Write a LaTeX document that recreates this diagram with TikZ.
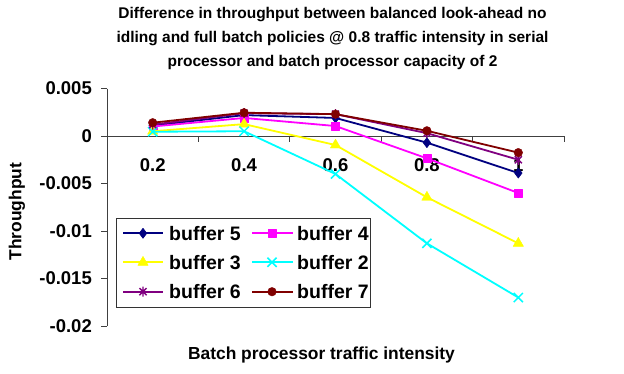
\documentclass[tikz,border=0pt]{standalone}
\usepackage{fontspec}
\setmainfont{Liberation Sans}
\usetikzlibrary{plotmarks}

% series colours
\definecolor{cFive}{HTML}{000080}
\definecolor{cFour}{HTML}{FF00FF}
\definecolor{cThree}{HTML}{FFFF00}
\definecolor{cTwo}{HTML}{00FFFF}
\definecolor{cSix}{HTML}{800080}
\definecolor{cSeven}{HTML}{800000}

% star marker: a cross with a vertical bar through it
\pgfdeclareplotmark{xstar}{%
  \pgfpathmoveto{\pgfqpoint{-.7071\pgfplotmarksize}{-.7071\pgfplotmarksize}}%
  \pgfpathlineto{\pgfqpoint{.7071\pgfplotmarksize}{.7071\pgfplotmarksize}}%
  \pgfpathmoveto{\pgfqpoint{-.7071\pgfplotmarksize}{.7071\pgfplotmarksize}}%
  \pgfpathlineto{\pgfqpoint{.7071\pgfplotmarksize}{-.7071\pgfplotmarksize}}%
  \pgfpathmoveto{\pgfqpoint{0pt}{-\pgfplotmarksize}}%
  \pgfpathlineto{\pgfqpoint{0pt}{\pgfplotmarksize}}%
  \pgfusepathqstroke}

\tikzset{
  series/.style={line width=1.8pt, line join=round},
  bufFive/.style={series, draw=cFive, mark=diamond*, mark size=5pt,
    mark options={fill=cFive, line width=0.6pt}},
  bufFour/.style={series, draw=cFour, mark=square*, mark size=4pt,
    mark options={fill=cFour, line width=0.4pt}},
  bufThree/.style={series, draw=cThree, mark=triangle*, mark size=6pt,
    mark options={fill=cThree, line width=0.4pt}},
  bufTwo/.style={series, draw=cTwo, mark=x, mark size=6.5pt,
    mark options={line width=1.5pt}},
  bufSix/.style={series, draw=cSix, mark=xstar, mark size=5pt,
    mark options={line width=1.4pt}},
  bufSeven/.style={series, draw=cSeven, mark=*, mark size=4.3pt,
    mark options={fill=cSeven, line width=0.4pt}},
  axisline/.style={draw=black!75, line width=0.9pt},
  ttl/.style={font=\bfseries\fontsize{15.5}{24}\selectfont, align=center, inner sep=0pt},
  axttl/.style={font=\bfseries\fontsize{17.4}{20}\selectfont, inner sep=0pt},
  ticklbl/.style={font=\bfseries\fontsize{18.5}{20}\selectfont, inner sep=0pt},
  legtxt/.style={font=\bfseries\fontsize{19.5}{22}\selectfont, inner sep=0pt, anchor=west},
  legmark/.style={mark repeat=3, mark phase=2},
}

\begin{document}
\begin{tikzpicture}[x=1pt, y=-1pt]
\useasboundingbox[fill=white] (0,0) rectangle (624,373);

% chart title
\node[ttl] (title) at (332.5,38.5)
  {Difference in throughput between balanced look-ahead no\\
   idling and full batch policies @ 0.8 traffic intensity in serial\\
   processor and batch processor capacity of 2};

% axis titles
\node[axttl] (xtitle) at (321.5,355) {Batch processor traffic intensity};
\node[axttl, rotate=90] (ytitle) at (17,211.5) {Throughput};

% plot area: category i at x=i, values in units of 0.001
\begin{scope}[shift={(61.3,136)}, x=91.4pt, y=9.5pt]
  % value axis
  \draw[axisline] (0.5,5) -- (0.5,-20);
  \foreach \v/\lbl in {5/0.005, 0/0, -5/-0.005, -10/-0.01, -15/-0.015, -20/-0.02} {
    \draw[axisline] (0.5,\v) -- ++(-6pt,0);
    \node[ticklbl, anchor=east] (ylbl\v) at ([xshift=-15pt]0.5,\v) {\lbl};
  }
  % category axis on the zero line
  \draw[axisline] (0.5,0) -- (5.5,0);
  \foreach \t in {1.5,2.5,3.5,4.5,5.5}
    \draw[axisline] (\t,0) -- ++(0,-6pt);
  \foreach \i/\lbl in {1/0.2, 2/0.4, 3/0.6, 4/0.8, 5/1}
    \node[ticklbl] (xlbl\i) at ([yshift=-29pt]\i,0) {\lbl};

  % data series
  \draw[bufFive]  plot coordinates {(1,1.1) (2,2.2) (3,1.9) (4,-0.7) (5,-3.9)};
  \draw[bufFour]  plot coordinates {(1,1.0) (2,1.9) (3,1.05) (4,-2.35) (5,-6.0)};
  \draw[bufThree] plot coordinates {(1,0.5) (2,1.25) (3,-0.95) (4,-6.45) (5,-11.3)};
  \draw[bufTwo]   plot coordinates {(1,0.45) (2,0.5) (3,-4.0) (4,-11.3) (5,-17.0)};
  \draw[bufSix]   plot coordinates {(1,1.2) (2,2.4) (3,2.3) (4,0.3) (5,-2.5)};
  \draw[bufSeven] plot coordinates {(1,1.4) (2,2.45) (3,2.3) (4,0.55) (5,-1.75)};
\end{scope}

% legend
\draw[fill=white, draw=black!80, line width=0.8pt] (116,218) rectangle (370,307);
\draw[bufFive, legmark]  plot coordinates {(123,233.3) (143,233.3) (163,233.3)};
\node[legtxt] (lgFive) at (169,233.3) {buffer 5};
\draw[bufFour, legmark]  plot coordinates {(252,233.3) (272,233.3) (293,233.3)};
\node[legtxt] (lgFour) at (297,233.3) {buffer 4};
\draw[bufThree, legmark] plot coordinates {(123,262.3) (143,262.3) (163,262.3)};
\node[legtxt] (lgThree) at (169,262.3) {buffer 3};
\draw[bufTwo, legmark]   plot coordinates {(252,262.3) (272,262.3) (293,262.3)};
\node[legtxt] (lgTwo) at (297,262.3) {buffer 2};
\draw[bufSix, legmark]   plot coordinates {(123,291.7) (143,291.7) (163,291.7)};
\node[legtxt] (lgSix) at (169,291.7) {buffer 6};
\draw[bufSeven, legmark] plot coordinates {(252,291.7) (272,291.7) (293,291.7)};
\node[legtxt] (lgSeven) at (297,291.7) {buffer 7};
\end{tikzpicture}
\end{document}
